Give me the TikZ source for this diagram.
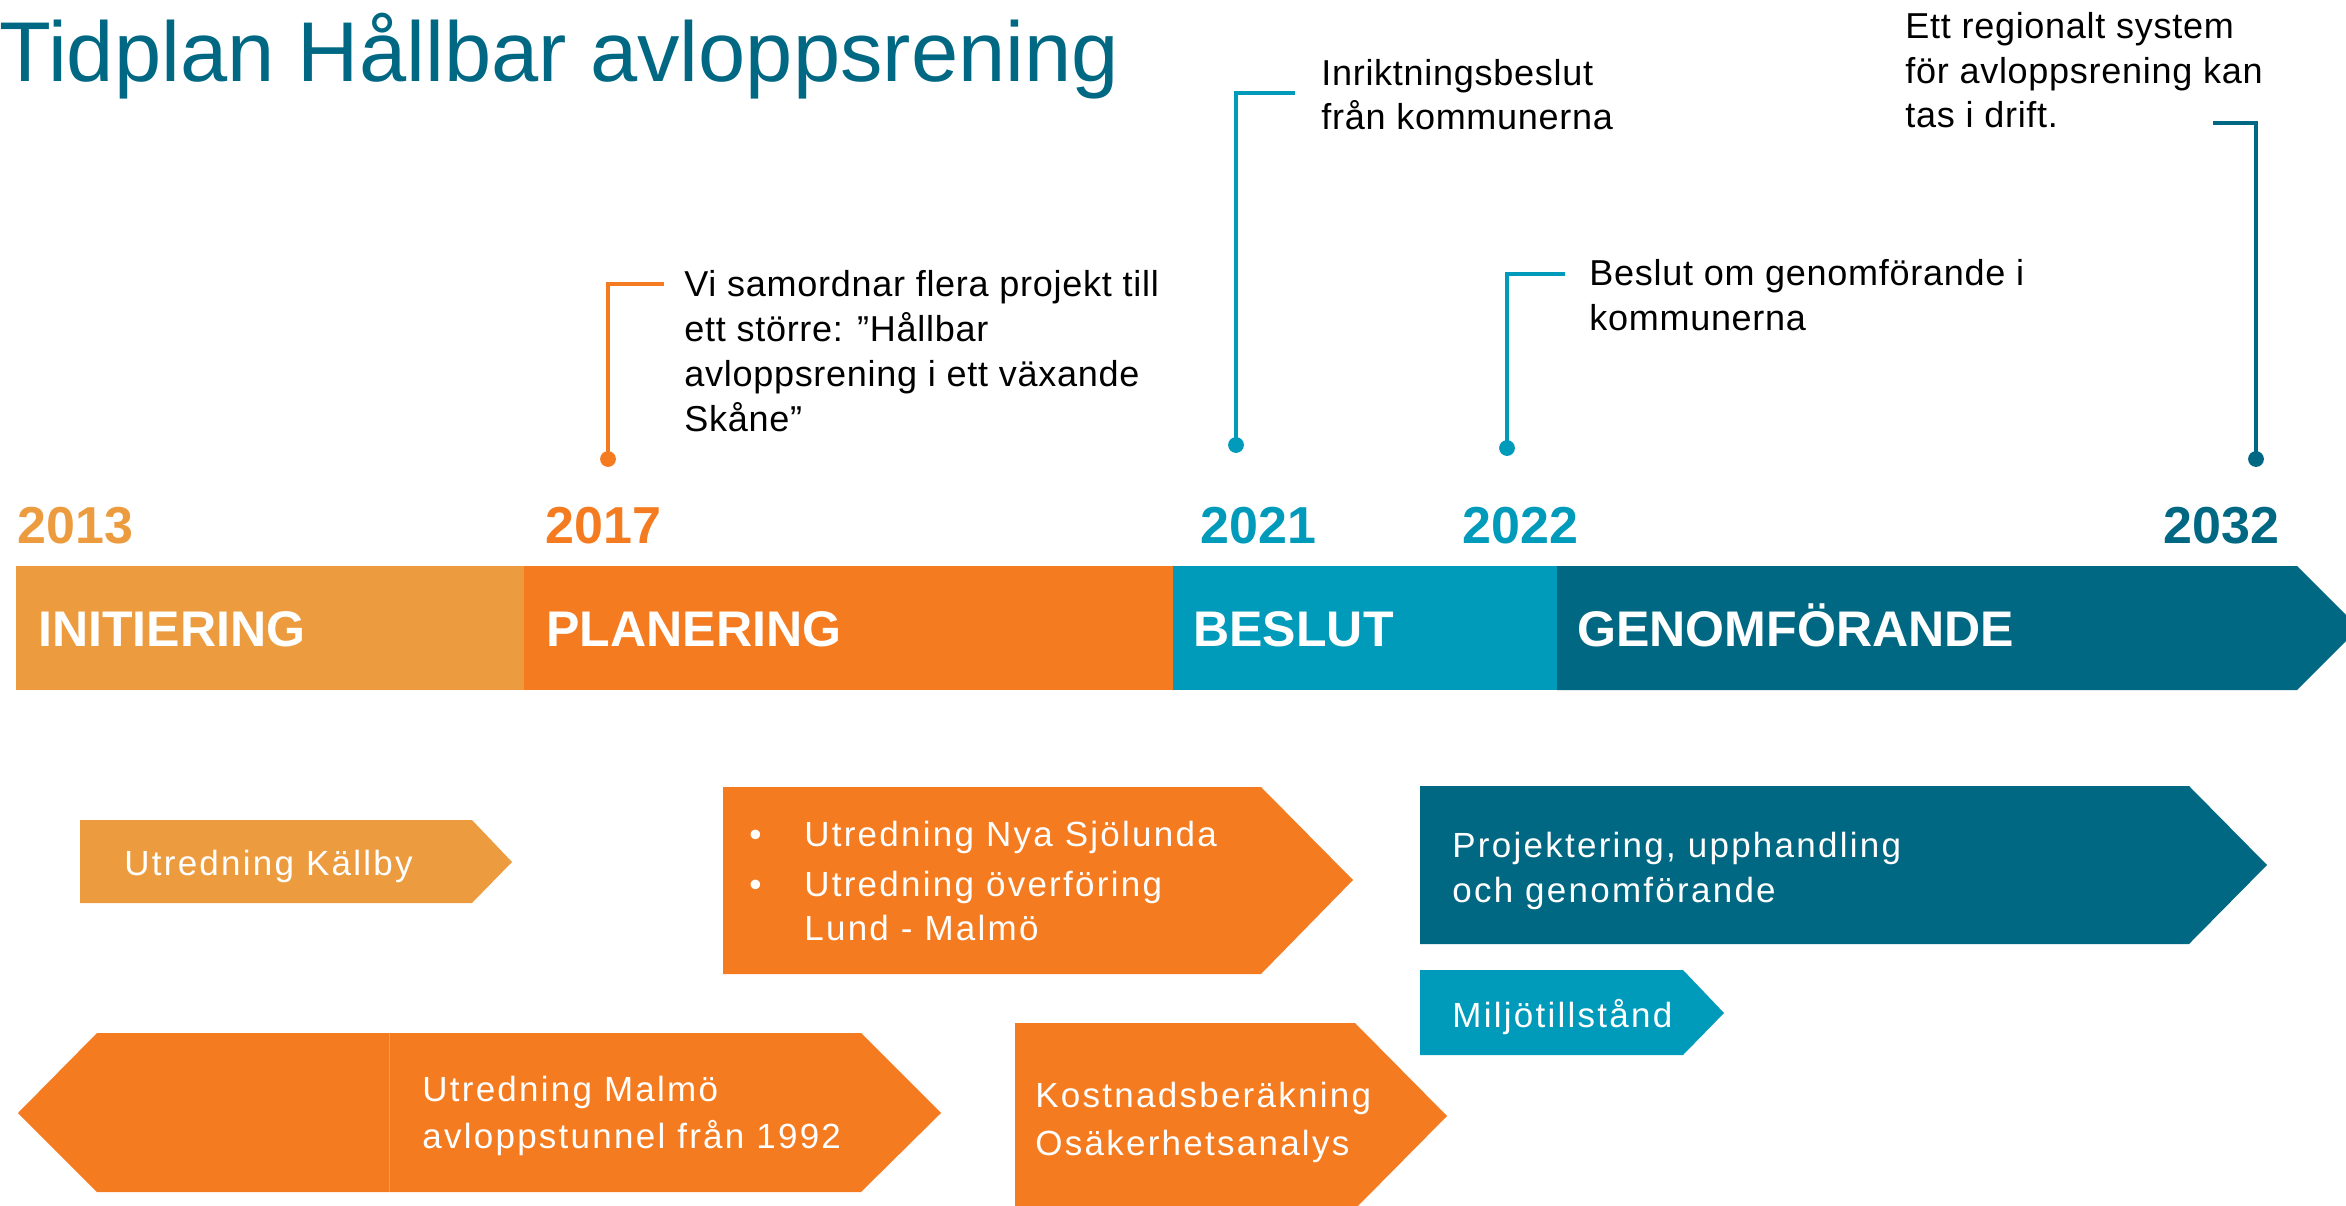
\documentclass[tikz,border=0pt]{standalone}
\usepackage{fontspec}
\setmainfont{Liberation Sans}
\usetikzlibrary{positioning}
\definecolor{initorange}{HTML}{EC9C3F}
\definecolor{planorange}{HTML}{F47B20}
\definecolor{beslutblue}{HTML}{009ABA}
\definecolor{genomblue}{HTML}{006882}

\begin{document}
\begin{tikzpicture}[
	x=0.02cm, y=-0.02cm,
	year/.style={anchor=base west, inner sep=0, font=\fontsize{29.6}{30}\selectfont\bfseries},
	phase/.style={anchor=base west, inner sep=0, text=white, font=\fontsize{28.5}{29}\selectfont\bfseries},
	note/.style={anchor=base west, inner sep=0, align=left, font=\fontsize{20.5}{25.6}\selectfont\addfontfeature{LetterSpace=2}},
	boxtext/.style={anchor=base west, inner sep=0, align=left, text=white, font=\fontsize{19.9}{25.6}\selectfont\addfontfeature{LetterSpace=6.5}},
	pinline/.style={line width=2.3pt},
	pindot/.style={circle, fill, inner sep=0, minimum size=9pt}
	]
	\useasboundingbox (0,0) rectangle (2346,1206);
	\node [anchor=base west, inner sep=0, text=genomblue, font=\fontsize{48.3}{49}\selectfont] (title) at (-1,82) {Tidplan Hållbar avloppsrening};

	\fill [initorange] (16,566) rectangle (524,690);
	\fill [planorange] (524,566) rectangle (1173,690);
	\fill [beslutblue] (1173,566) rectangle (1557,690);
	\fill [genomblue] (1557,566) -- (2297,566) -- (2359,628) -- (2297,690) -- (1557,690) -- cycle;

	\node [phase] (init) at (38,646) {INITIERING};
	\node [phase] (plan) at (546,646) {PLANERING};
	\node [phase] (beslut) at (1193,646) {BESLUT};
	\node [phase] (genom) at (1577,646) {GENOMFÖRANDE};

	\node [year,text=initorange] (y2013) at (17,543) {2013};
	\node [year,text=planorange] (y2017) at (545,543) {2017};
	\node [year,text=beslutblue] (y2021) at (1200,543) {2021};
	\node [year,text=beslutblue] (y2022) at (1462,543) {2022};
	\node [year,text=genomblue] (y2032) at (2163,543) {2032};

	\coordinate (dotA) at (608,459);
	\coordinate (endA) at (664,284);
	\draw [pinline,planorange] (dotA) |- (endA);
	\node [pindot,planorange] at (dotA) {};
	\node [note] (noteA) at (684,431) {Vi samordnar flera projekt till\\ett större: ”Hållbar\\avloppsrening i ett växande\\Skåne”};

	\coordinate (dotB) at (1236,445);
	\coordinate (endB) at (1295,93);
	\draw [pinline,beslutblue] (dotB) |- (endB);
	\node [pindot,beslutblue] at (dotB) {};
	\node [note] (noteB) at (1321,130) {Inriktningsbeslut\\från kommunerna};

	\coordinate (dotC) at (1507,448);
	\coordinate (endC) at (1565,274);
	\draw [pinline,beslutblue] (dotC) |- (endC);
	\node [pindot,beslutblue] at (dotC) {};
	\node [note] (noteC) at (1589,330) {Beslut om genomförande i\\kommunerna};

	\coordinate (dotD) at (2256,459);
	\coordinate (endD) at (2213,123);
	\draw [pinline,genomblue] (dotD) |- (endD);
	\node [pindot,genomblue] at (dotD) {};
	\node [note] (noteD) at (1905,128) {Ett regionalt system\\för avloppsrening kan\\tas i drift.};

	\fill [initorange] (80,820) -- (472,820) -- (512,862) -- (472,903) -- (80,903) -- cycle;
	\node [boxtext] (kallby) at (124,875) {Utredning Källby};

	\fill [planorange] (723,787) -- (1261,787) -- (1353,880) -- (1261,974) -- (723,974) -- cycle;
	\node [boxtext,font=\fontsize{19.9}{24.5}\selectfont\addfontfeature{LetterSpace=6.5}] (sjolunda) at (749,940) {\makebox[1.1cm][l]{•}Utredning Nya Sjölunda\\[4pt]\makebox[1.1cm][l]{•}Utredning överföring\\\makebox[1.1cm][l]{}Lund - Malmö};

	\fill [planorange] (18,1113) -- (97,1033) -- (861,1033) -- (941,1113) -- (861,1192) -- (97,1192) -- cycle;
	\draw [white,opacity=0.25,line width=0.4pt] (389,1033) -- (389,1192);
	\node [boxtext,font=\fontsize{19.9}{26.2}\selectfont\addfontfeature{LetterSpace=6.5}] (tunnel) at (422,1148) {Utredning Malmö\\avloppstunnel från 1992};

	\fill [planorange] (1015,1023) -- (1355,1023) -- (1447,1116) -- (1355,1209) -- (1015,1209) -- cycle;
	\node [boxtext,font=\fontsize{19.9}{27.3}\selectfont\addfontfeature{LetterSpace=6.5}] (kostnad) at (1035,1155) {Kostnadsberäkning\\Osäkerhetsanalys};

	\fill [genomblue] (1420,786) -- (2189,786) -- (2267,865) -- (2189,944) -- (1420,944) -- cycle;
	\node [boxtext] (projekt) at (1452,902) {Projektering, upphandling\\och genomförande};

	\fill [beslutblue] (1420,970) -- (1683,970) -- (1724,1013) -- (1683,1055) -- (1420,1055) -- cycle;
	\node [boxtext] (miljo) at (1452,1027) {Miljötillstånd};
\end{tikzpicture}
\end{document}
